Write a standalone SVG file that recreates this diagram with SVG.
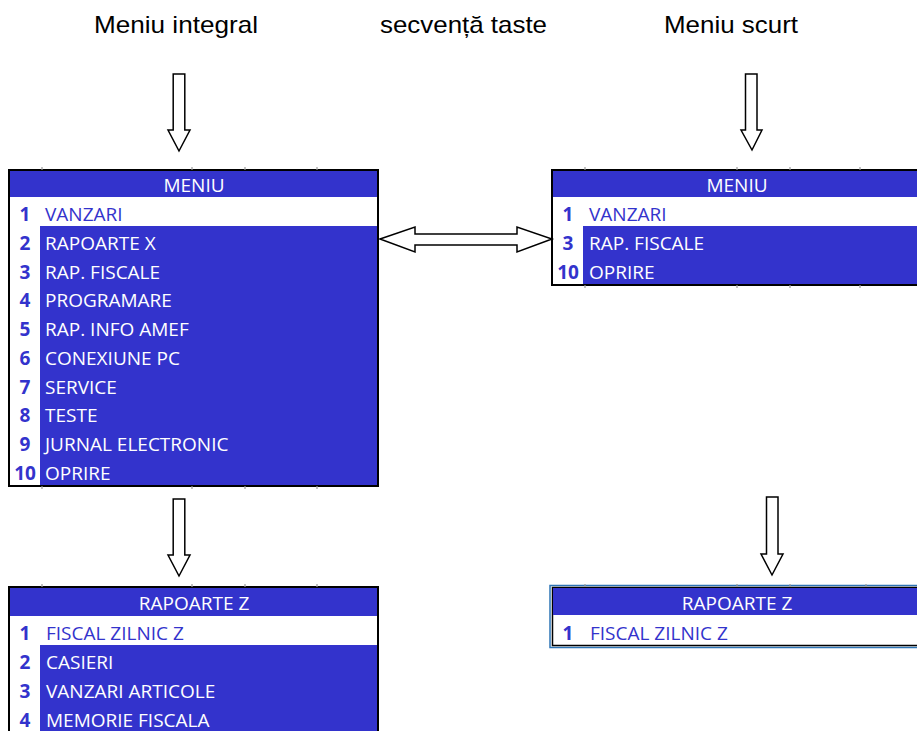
<svg xmlns="http://www.w3.org/2000/svg" width="917" height="731" viewBox="0 0 917 731">
<style>
.title{font-family:"Liberation Sans",Arial,sans-serif;font-size:24px;fill:#000;text-anchor:middle}
.cell{font-family:"Open Sans","Noto Sans",sans-serif;font-size:19px}
.hdr{fill:#fff;text-anchor:middle}
.num{font-weight:bold;fill:#3333cc;text-anchor:middle}
.wt{fill:#fff}
.bt{fill:#3333cc}
.blue{fill:#3333cc}
.frame{fill:#fff;stroke:#000;stroke-width:2}
.tick{stroke:#9a9a9a;stroke-width:1.2}
.arrow{fill:#fff;stroke:#000;stroke-width:1.5;stroke-linejoin:miter}
</style>
<rect width="917" height="731" fill="#fff"/>

<text class="title" x="176" y="33" textLength="164" lengthAdjust="spacingAndGlyphs">Meniu integral</text>
<text class="title" x="463.5" y="33" textLength="167" lengthAdjust="spacingAndGlyphs">secvență taste</text>
<text class="title" x="731" y="33" textLength="134" lengthAdjust="spacingAndGlyphs">Meniu scurt</text>

<g id="menu-full">
<rect class="frame" x="9" y="170" width="369" height="316"/>
<rect class="blue" x="10" y="171" width="367" height="26"/>
<rect class="blue" x="40" y="226" width="337" height="259"/>
<g class="tick"><line x1="42" y1="167" x2="42" y2="170"/><line x1="192" y1="167" x2="192" y2="170"/><line x1="245" y1="167" x2="245" y2="170"/><line x1="317" y1="167" x2="317" y2="170"/>
<line x1="42" y1="486" x2="42" y2="489"/><line x1="192" y1="486" x2="192" y2="489"/><line x1="245" y1="486" x2="245" y2="489"/><line x1="317" y1="486" x2="317" y2="489"/></g>
<g class="cell">
<text class="hdr" x="194" y="192">MENIU</text>
<text class="num" x="25" y="221">1</text><text class="bt" x="45" y="221">VANZARI</text>
<text class="num" x="25" y="250">2</text><text class="wt" x="45" y="250">RAPOARTE X</text>
<text class="num" x="25" y="279">3</text><text class="wt" x="45" y="279">RAP. FISCALE</text>
<text class="num" x="25" y="307">4</text><text class="wt" x="45" y="307">PROGRAMARE</text>
<text class="num" x="25" y="336">5</text><text class="wt" x="45" y="336">RAP. INFO AMEF</text>
<text class="num" x="25" y="365">6</text><text class="wt" x="45" y="365">CONEXIUNE PC</text>
<text class="num" x="25" y="394">7</text><text class="wt" x="45" y="394">SERVICE</text>
<text class="num" x="25" y="422">8</text><text class="wt" x="45" y="422">TESTE</text>
<text class="num" x="25" y="451">9</text><text class="wt" x="45" y="451">JURNAL ELECTRONIC</text>
<text class="num" x="25" y="480">10</text><text class="wt" x="45" y="480">OPRIRE</text>
</g>
</g>

<g id="menu-short">
<rect class="frame" x="552" y="170" width="380" height="115"/>
<rect class="blue" x="553" y="171" width="370" height="26"/>
<rect class="blue" x="583" y="226" width="340" height="58"/>
<g class="tick"><line x1="585" y1="167" x2="585" y2="170"/><line x1="737" y1="167" x2="737" y2="170"/><line x1="790" y1="167" x2="790" y2="170"/><line x1="860" y1="167" x2="860" y2="170"/>
<line x1="585" y1="285" x2="585" y2="288"/><line x1="737" y1="285" x2="737" y2="288"/><line x1="790" y1="285" x2="790" y2="288"/><line x1="860" y1="285" x2="860" y2="288"/></g>
<g class="cell">
<text class="hdr" x="737" y="192">MENIU</text>
<text class="num" x="568" y="221">1</text><text class="bt" x="589" y="221">VANZARI</text>
<text class="num" x="568" y="250">3</text><text class="wt" x="589" y="250">RAP. FISCALE</text>
<text class="num" x="568" y="279">10</text><text class="wt" x="589" y="279">OPRIRE</text>
</g>
</g>

<g id="z-full">
<rect class="frame" x="9" y="587" width="369" height="160"/>
<rect class="blue" x="10" y="588" width="367" height="28"/>
<rect class="blue" x="40" y="645" width="337" height="90"/>
<g class="tick"><line x1="42" y1="584" x2="42" y2="587"/><line x1="192" y1="584" x2="192" y2="587"/><line x1="245" y1="584" x2="245" y2="587"/><line x1="317" y1="584" x2="317" y2="587"/></g>
<g class="cell">
<text class="hdr" x="194" y="610">RAPOARTE Z</text>
<text class="num" x="25" y="640">1</text><text class="bt" x="46" y="640">FISCAL ZILNIC Z</text>
<text class="num" x="25" y="669">2</text><text class="wt" x="46" y="669">CASIERI</text>
<text class="num" x="25" y="698">3</text><text class="wt" x="46" y="698">VANZARI ARTICOLE</text>
<text class="num" x="25" y="727">4</text><text class="wt" x="46" y="727">MEMORIE FISCALA</text>
</g>
</g>

<g id="z-short">
<rect x="550" y="585.5" width="380" height="62" fill="#fff" stroke="#2e75b6" stroke-width="1.5"/>
<rect x="552.5" y="587.5" width="380" height="58" fill="none" stroke="#000" stroke-width="1.5"/>
<rect class="blue" x="553" y="588" width="370" height="27"/>
<g class="tick"><line x1="585" y1="584" x2="585" y2="587"/><line x1="737" y1="584" x2="737" y2="587"/><line x1="790" y1="584" x2="790" y2="587"/><line x1="866" y1="584" x2="866" y2="587"/></g>
<g class="cell">
<text class="hdr" x="737" y="610">RAPOARTE Z</text>
<text class="num" x="568" y="640">1</text><text class="bt" x="590" y="640">FISCAL ZILNIC Z</text>
</g>
</g>

<g id="connectors">
<path class="arrow" d="M173.2,74 H184.8 V130 H190 L179,151 L168,130 H173.2 Z"/>
<path class="arrow" d="M745.5,74 H757 V130 H762 L752,150 L741,130 H745.5 Z"/>
<path class="arrow" d="M173.2,499 H184.8 V555 H190 L179,576 L168,555 H173.2 Z"/>
<path class="arrow" d="M766.5,497 H778 V554 H783 L772,575 L761,554 H766.5 Z"/>
<path class="arrow" d="M380,239 L415,227 V234 H517 V227 L552,239 L517,252 V245 H415 V252 Z"/>
</g>
</svg>
